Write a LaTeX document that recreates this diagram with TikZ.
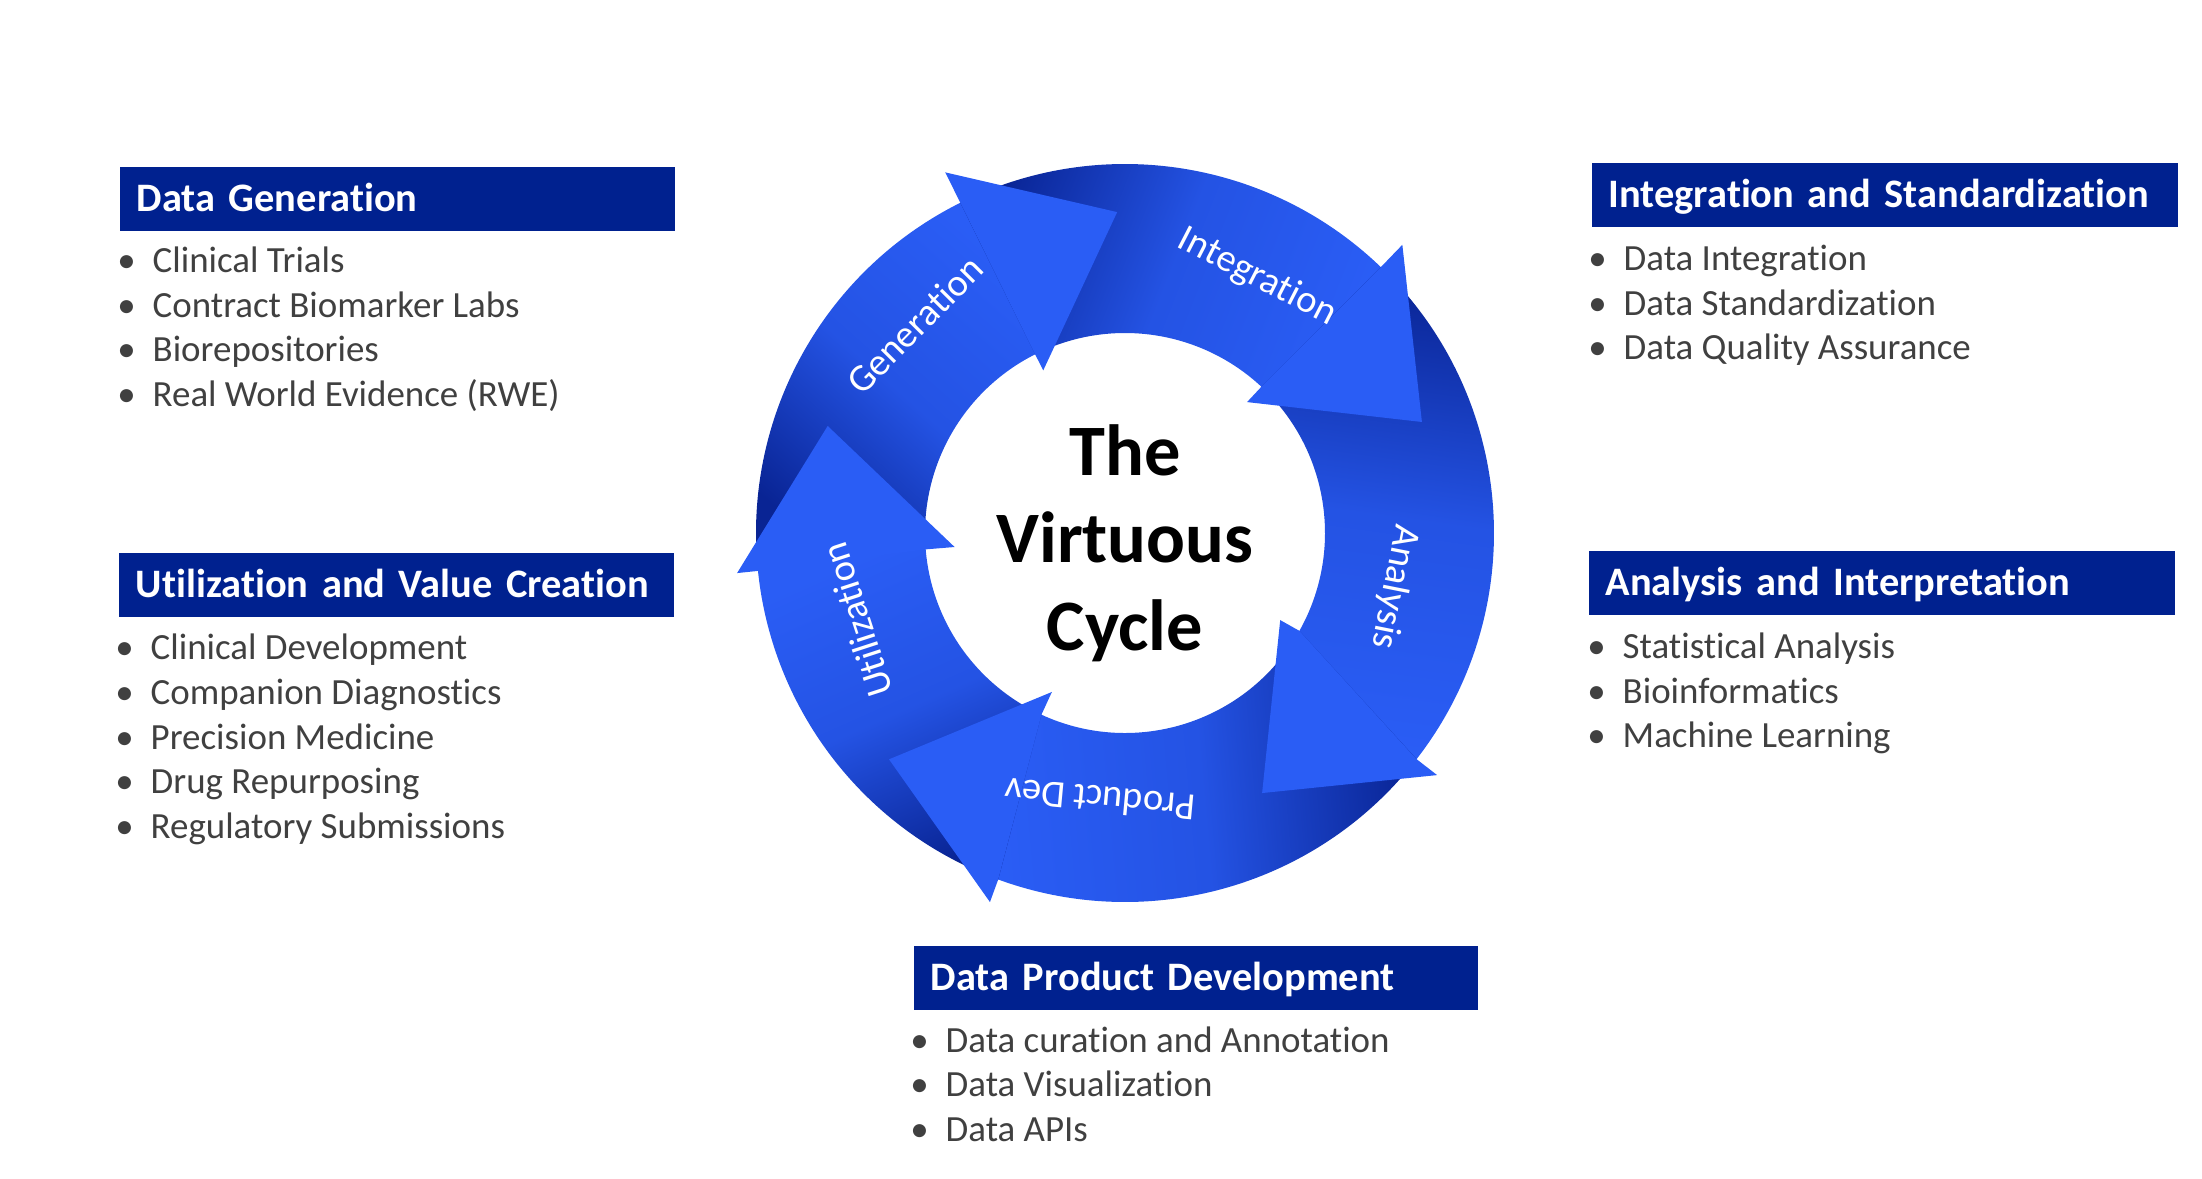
\documentclass[tikz,border=0pt]{standalone}
\usepackage{fontspec}
\setmainfont{Carlito}[Ligatures=NoCommon]
\definecolor{hdrblue}{RGB}{0,33,143}
\definecolor{itemgray}{RGB}{64,64,64}
\definecolor{arrbright}{RGB}{42,93,245}
\definecolor{arrdark}{RGB}{9,36,148}
\colorlet{arrmid}{arrbright!82!arrdark}
\begin{document}
\begin{tikzpicture}[x=0.01cm,y=0.01cm,
    hdr/.style={anchor=north west,fill=hdrblue,text=white,font=\fontsize{11.5}{14}\selectfont\bfseries,
      inner xsep=0.17cm,inner ysep=0pt,minimum height=0.64cm,text height=0.264cm,text depth=0pt,align=left},
    item/.style={anchor=base west,inner sep=0pt,text=itemgray,font=\fontsize{10.5}{12.6}\selectfont,
      execute at begin node={\llap{\textbullet\hspace{0.17cm}}}},
    lbl/.style={inner sep=0pt,text=white,font=\fontsize{10.95}{13}\selectfont}]
  \useasboundingbox (0,0) rectangle (2202,1178);
  % headers
  \node[hdr,text width=5.21cm] (dgh) at (119,1012) {Data Generation};
  \node[hdr,text width=5.52cm] (ish) at (1591,1016) {Integration and Standardization};
  \node[hdr,text width=5.21cm] (uvh) at (118,626) {Utilization and Value Creation};
  \node[hdr,text width=5.52cm] (aih) at (1588,628) {Analysis and Interpretation};
  \node[hdr,text width=5.30cm] (pdh) at (913,233) {Data Product Development};
  % bullet lists
  \node[item] (dg1) at (152,905) {Clinical Trials};
  \node[item] (dg2) at (152,860.5) {Contract Biomarker Labs};
  \node[item] (dg3) at (152,816) {Biorepositories};
  \node[item] (dg4) at (152,771.5) {Real World Evidence (RWE)};
  \node[item] (is1) at (1623,907) {Data Integration};
  \node[item] (is2) at (1623,862.5) {Data Standardization};
  \node[item] (is3) at (1623,818) {Data Quality Assurance};
  \node[item] (uv1) at (150,518) {Clinical Development};
  \node[item] (uv2) at (150,473.5) {Companion Diagnostics};
  \node[item] (uv3) at (150,429) {Precision Medicine};
  \node[item] (uv4) at (150,384.5) {Drug Repurposing};
  \node[item] (uv5) at (150,340) {Regulatory Submissions};
  \node[item] (ai1) at (1622,519) {Statistical Analysis};
  \node[item] (ai2) at (1622,474.5) {Bioinformatics};
  \node[item] (ai3) at (1622,430) {Machine Learning};
  \node[item] (pd1) at (945,126) {Data curation and Annotation};
  \node[item] (pd2) at (945,81.5) {Data Visualization};
  \node[item] (pd3) at (945,37) {Data APIs};
  % the cycle
  \begin{scope}[shift={(1125,645)}]
    \shade[top color=arrbright,bottom color=arrdark,middle color=arrmid,shading angle=-41.6]
      (185.9:369) arc[start angle=185.9,end angle=115,radius=369] -- (115.2:200)
      arc[start angle=115.2,end angle=184.7,radius=200] -- cycle;
    \shade[top color=arrbright,bottom color=arrdark,middle color=arrmid,shading angle=-111.4]
      (116.5:369) arc[start angle=116.5,end angle=44.6,radius=369] -- (45.5:200)
      arc[start angle=45.5,end angle=116.7,radius=200] -- cycle;
    \shade[top color=arrbright,bottom color=arrdark,middle color=arrmid,shading angle=-187.9]
      (46.1:369) arc[start angle=46.1,end angle=-39.3,radius=369] -- (-30.8:200)
      arc[start angle=-30.8,end angle=47,radius=200] -- cycle;
    \shade[top color=arrbright,bottom color=arrdark,middle color=arrmid,shading angle=95.1]
      (-37.8:369) arc[start angle=-37.8,end angle=-111.6,radius=369] -- (-116.2:200)
      arc[start angle=-116.2,end angle=-29.3,radius=200] -- cycle;
    \shade[top color=arrbright,bottom color=arrdark,middle color=arrmid,shading angle=23.9]
      (-110.1:369) arc[start angle=-110.1,end angle=-175.6,radius=369] -- (-176.8:200)
      arc[start angle=-176.8,end angle=-114.7,radius=200] -- cycle;
    \fill[arrbright] (116.5:369) -- (116.5:403) -- (91.4:321) -- (116.7:182) -- (116.7:200) -- cycle;
    \fill[arrbright] (46.1:369) -- (46.1:400) -- (20.5:317) -- (47:179) -- (47:200) -- cycle;
    \fill[arrbright] (-37.8:369) -- (-37.8:395) -- (-62.2:294) -- (-29.3:178) -- (-29.3:200) -- cycle;
    \fill[arrbright] (-110.1:369) -- (-110.1:393) -- (-136.2:327) -- (-114.7:175) -- (-114.7:200) -- cycle;
    \fill[arrbright] (-174.1:369) -- (-174.1:390) -- (-199.8:316) -- (-175.3:171) -- (-175.3:200) -- cycle;
    \node[lbl,rotate=45.3] (gen) at (135.3:296) {Generation};
    \node[lbl,rotate=-27.3] (integ) at (62.7:288) {Integration};
    \node[lbl,rotate=-101.3] (ana) at (-11.3:275) {Analysis};
    \node[lbl,rotate=174.7] (prod) at (-95.3:268) {Product Dev};
    \node[lbl,rotate=108] (util) at (-162:282) {Utilization};
    \node[font=\fontsize{20.6}{24.9}\selectfont\bfseries,align=center] (title) at (0,-10) {The\\Virtuous\\Cycle};
  \end{scope}
\end{tikzpicture}
\end{document}
